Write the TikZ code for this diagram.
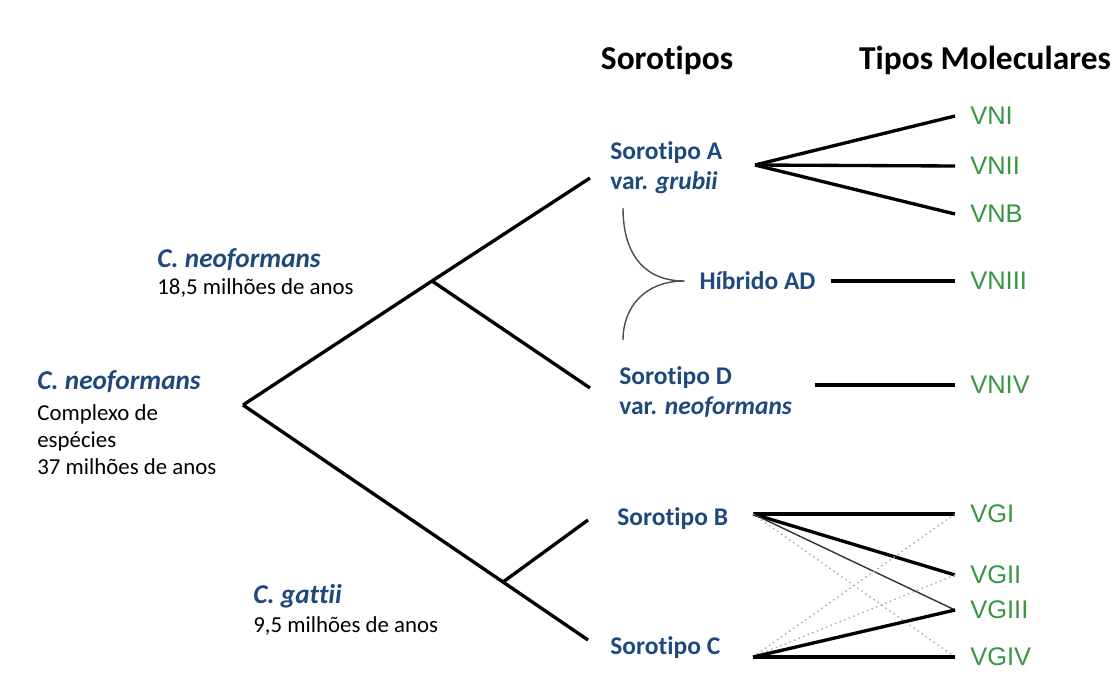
\documentclass[tikz,border=0pt]{standalone}
\usepackage{fontspec}
\setmainfont[Ligatures=NoCommon]{Carlito}
\newfontfamily\arialfont{Liberation Sans}
\definecolor{seroblue}{RGB}{31,73,125}
\definecolor{molgreen}{RGB}{55,150,65}

\begin{document}
\begin{tikzpicture}
        [x=0.02cm,y=-0.02cm,
         branch/.style={line width=1.9pt},
         thinline/.style={line width=0.8pt,black!80},
         dotline/.style={line width=0.8pt,gray!70,dotted},
         brace/.style={line width=0.8pt,black!70},
         head/.style={font=\fontsize{19}{22}\selectfont\bfseries,inner sep=0},
         sero/.style={text=seroblue,font=\fontsize{14.5}{17}\selectfont\bfseries,anchor=west,inner sep=0,align=left},
         species/.style={text=seroblue,font=\fontsize{15.5}{18}\selectfont\bfseries\itshape,anchor=west,inner sep=0},
         age/.style={font=\fontsize{13}{15.3}\selectfont,anchor=west,inner sep=0,align=left},
         mol/.style={text=molgreen,font=\arialfont\fontsize{14.5}{16}\selectfont,anchor=west,inner xsep=8.5pt,inner ysep=0}]

        \useasboundingbox (0,0) rectangle (1118,686);

        \node[head] (hsero) at (667,60) {Sorotipos};
        \node[head] (hmol) at (985,60) {Tipos Moleculares};

        \node[species] (cneo) at (37,382) {C. neoformans};
        \node[age] (cneoage) at (37,440) {Complexo de\\esp\'ecies\\37 milh\~oes de anos};
        \node[species] (cneo2) at (157,260) {C. neoformans};
        \node[age] (cneo2age) at (157,288) {18,5 milh\~oes de anos};
        \node[species] (cgat) at (253,596) {C. gattii};
        \node[age] (cgatage) at (253,626) {9,5 milh\~oes de anos};

        \node[sero] (seroA) at (610,168) {Sorotipo A\\var. \textit{grubii}};
        \node[sero] (seroD) at (619,392) {Sorotipo D\\var. \textit{neoformans}};
        \node[sero] (seroB) at (617,519) {Sorotipo B};
        \node[sero] (seroC) at (610,648) {Sorotipo C};
        \node[sero,anchor=center,inner xsep=8.5pt] (hib) at (757.5,281) {H\'ibrido AD};

        \node[mol] (vni) at (955,116) {VNI};
        \node[mol] (vnii) at (955,166) {VNII};
        \node[mol] (vnb) at (955,214) {VNB};
        \node[mol] (vniii) at (955,281) {VNIII};
        \node[mol] (vniv) at (955,385) {VNIV};
        \node[mol] (vgi) at (955,514) {VGI};
        \node[mol] (vgii) at (955,575) {VGII};
        \node[mol] (vgiii) at (955,610) {VGIII};
        \node[mol] (vgiv) at (955,657) {VGIV};

        \coordinate (root) at (243,405);
        \coordinate (nsplit) at (432,281);
        \coordinate (gsplit) at (503,582);
        \coordinate (tipA) at (590,178);
        \coordinate (tipD) at (590,388);
        \coordinate (tipB) at (588,520);
        \coordinate (tipC) at (588,640);
        \coordinate (aj) at (755,165);
        \coordinate (dj) at (815,385);
        \coordinate (bj) at (753,514);
        \coordinate (cj) at (753,657);
        \coordinate (braceA) at (623,208);
        \coordinate (braceD) at (623,340);

        % arvore
        \draw[branch] (root) -- (nsplit) -- (tipA);
        \draw[branch] (nsplit) -- (tipD);
        \draw[branch] (root) -- (gsplit) -- (tipC);
        \draw[branch] (gsplit) -- (tipB);

        % hibrido
        \draw[brace] (braceA) .. controls (623,255) and (645,281) .. (hib.west);
        \draw[brace] (braceD) .. controls (623,307) and (645,281) .. (hib.west);

        % tipos moleculares
        \draw[branch] (aj) -- (vni.west);
        \draw[branch] (aj) -- (vnii.west);
        \draw[branch] (aj) -- (vnb.west);
        \draw[branch] (hib.east) -- (vniii.west);
        \draw[branch] (dj) -- (vniv.west);

        \draw[branch] (bj) -- (vgi.west);
        \draw[branch] (bj) -- (vgii.west);
        \draw[thinline] (bj) -- (vgiii.west);
        \draw[dotline] (bj) -- (vgiv.west);
        \draw[dotline] (cj) -- (vgi.west);
        \draw[dotline] (cj) -- (vgii.west);
        \draw[branch] (cj) -- (vgiii.west);
        \draw[branch] (cj) -- (vgiv.west);
      \end{tikzpicture}
\end{document}
